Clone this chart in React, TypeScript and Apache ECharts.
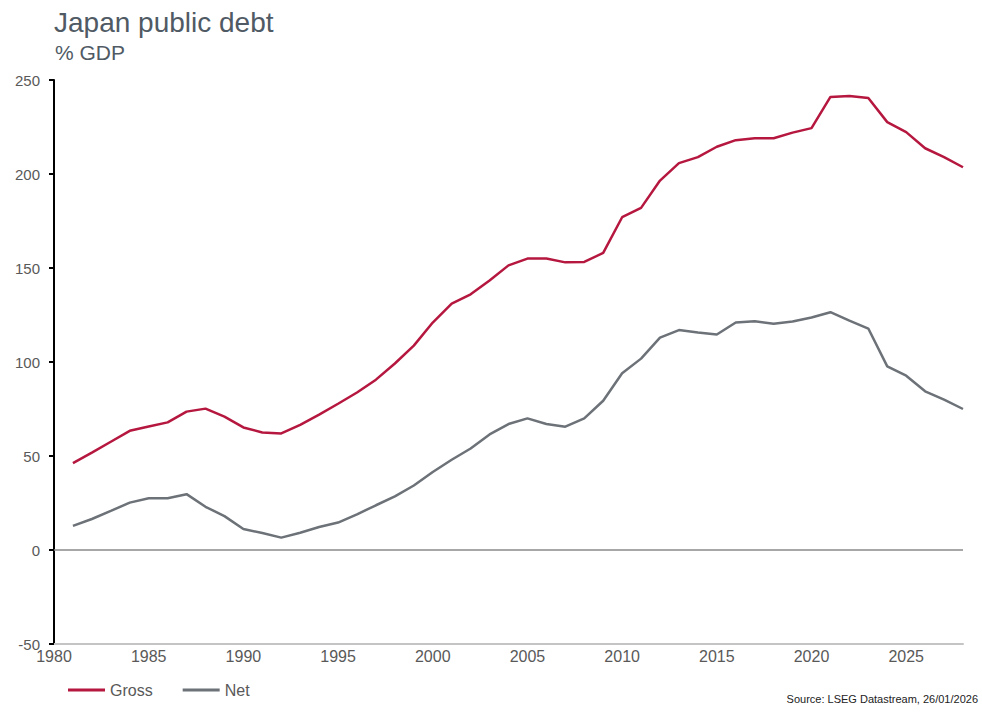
import React, { useEffect, useRef } from "react";
import * as echarts from "echarts";

const years = [
  1981, 1982, 1983, 1984, 1985, 1986, 1987, 1988, 1989, 1990, 1991, 1992, 1993, 1994, 1995, 1996,
  1997, 1998, 1999, 2000, 2001, 2002, 2003, 2004, 2005, 2006, 2007, 2008, 2009, 2010, 2011, 2012,
  2013, 2014, 2015, 2016, 2017, 2018, 2019, 2020, 2021, 2022, 2023, 2024, 2025, 2026, 2027, 2028,
];

const gross = [
  46.2, 51.8, 57.6, 63.4, 65.7, 67.9, 73.6, 75.2, 70.9, 65.2, 62.5, 62.0, 66.6, 72.0, 77.8, 83.8,
  90.6, 99.2, 108.7, 121.0, 131.0, 136.0, 143.4, 151.4, 155.0, 155.0, 153.0, 153.2, 158.0, 177.0, 182.0, 196.5,
  205.8, 209.0, 214.5, 218.0, 219.0, 219.0, 222.0, 224.4, 241.0, 241.5, 240.4, 227.6, 222.3, 213.7, 209.0, 203.6,
];

const net = [
  12.8, 16.5, 20.8, 25.2, 27.5, 27.5, 29.7, 23.0, 18.0, 11.2, 9.0, 6.6, 9.2, 12.2, 14.6, 19.0,
  23.8, 28.5, 34.3, 41.5, 48.0, 54.0, 61.5, 67.0, 70.0, 67.0, 65.6, 70.0, 79.4, 94.0, 101.8, 113.0,
  117.0, 115.7, 114.6, 121.0, 121.7, 120.4, 121.5, 123.7, 126.5, 122.0, 117.8, 97.7, 92.7, 84.4, 80.0, 75.0,
];

const seriesNames = ["Gross", "Net"];
const titleText = "Japan public debt";
const subtitleText = "% GDP";
const sourceText = "Source: LSEG Datastream, 26/01/2026";

const FONT = "'Liberation Sans', Arial, sans-serif";

export default function App() {
  const ref = useRef<HTMLDivElement>(null);

  useEffect(() => {
    if (!ref.current) return;
    const chart = echarts.init(ref.current, undefined, { renderer: "svg" });
    const pair = (arr: number[]) => years.map((y, i) => [y, arr[i]]);
    chart.setOption({
      animation: false,
      backgroundColor: "#ffffff",
      textStyle: { fontFamily: FONT },
      graphic: [
        {
          type: "text",
          left: 54,
          top: 8,
          style: { text: titleText, font: `28px ${FONT}`, fill: "#505a64" },
        },
        {
          type: "text",
          left: 55,
          top: 42,
          style: { text: subtitleText, font: `21px ${FONT}`, fill: "#505a64" },
        },
        {
          type: "text",
          right: 4,
          top: 693,
          style: { text: sourceText, font: `11px ${FONT}`, fill: "#222222" },
        },
      ],
      legend: {
        left: 63,
        top: 677,
        itemWidth: 37,
        itemHeight: 3,
        itemGap: 30,
        icon: "rect",
        textStyle: { fontSize: 16, color: "#595959", fontFamily: FONT },
        data: seriesNames,
      },
      grid: { left: 54, right: 19, top: 80, bottom: 71, containLabel: false, outerBoundsMode: "none" },
      xAxis: {
        type: "value",
        min: 1980,
        max: 2028,
        interval: 5,
        axisLine: { show: true, onZero: false, lineStyle: { color: "#c4c4c4", width: 2 } },
        axisTick: { show: false },
        splitLine: { show: false },
        axisLabel: {
          color: "#595959",
          fontSize: 16,
          margin: 4,
          fontFamily: FONT,
          showMaxLabel: false,
          formatter: (v: number) => (v % 5 === 0 ? String(v) : ""),
        },
      },
      yAxis: {
        type: "value",
        min: -50,
        max: 250,
        interval: 50,
        axisLine: { show: true, onZero: false, lineStyle: { color: "#000000", width: 2 } },
        axisTick: { show: true, length: 5, lineStyle: { color: "#000000", width: 2 } },
        splitLine: { show: false },
        axisLabel: { color: "#595959", fontSize: 15, margin: 14, fontFamily: FONT },
      },
      series: [
        {
          name: seriesNames[0],
          type: "line",
          data: pair(gross),
          symbol: "none",
          lineStyle: { color: "#b5173f", width: 2.5 },
          itemStyle: { color: "#b5173f" },
          z: 3,
        },
        {
          name: seriesNames[1],
          type: "line",
          data: pair(net),
          symbol: "none",
          lineStyle: { color: "#6c7278", width: 2.5 },
          itemStyle: { color: "#6c7278" },
          z: 3,
          markLine: {
            silent: true,
            symbol: "none",
            label: { show: false },
            lineStyle: { color: "#8a8a8a", width: 1.5, type: "solid" },
            data: [{ yAxis: 0 }],
            z: 1,
          },
        },
      ],
    });
    return () => chart.dispose();
  }, []);

  return (
    <div
      ref={ref}
      style={{ position: "fixed", left: 0, top: 0, width: 982, height: 715, background: "#fff" }}
    />
  );
}
